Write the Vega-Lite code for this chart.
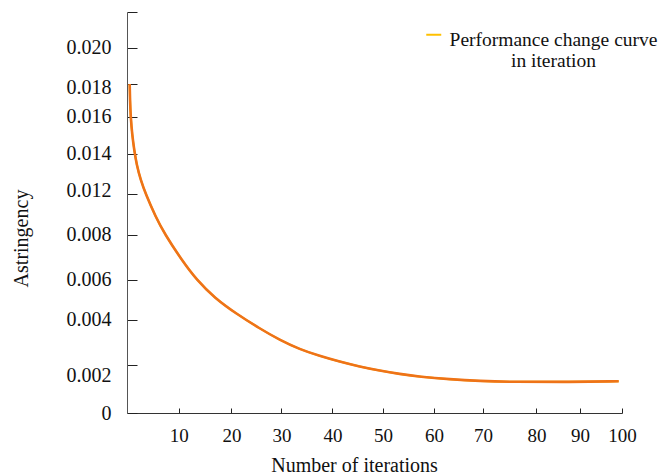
{
  "$schema": "https://vega.github.io/schema/vega-lite/v6.json",
  "width": 495,
  "height": 401,
  "autosize": {"type": "none"},
  "padding": {"left": 127, "top": 12, "right": 39, "bottom": 63},
  "background": "white",
  "config": {
    "view": {"stroke": null},
    "font": "Liberation Serif",
    "axis": {"grid": false, "labelFont": "Liberation Serif", "titleFont": "Liberation Serif", "labelColor": "#111", "titleColor": "#111", "titleFontWeight": "normal"},
    "legend": {"labelFont": "Liberation Serif"}
  },
  "data": {
    "values": [
      {"iteration": 0.545, "value": 0.018027, "series": "curve"},
      {"iteration": 0.606, "value": 0.017151, "series": "curve"},
      {"iteration": 0.747, "value": 0.016219, "series": "curve"},
      {"iteration": 1.051, "value": 0.015233, "series": "curve"},
      {"iteration": 1.455, "value": 0.014411, "series": "curve"},
      {"iteration": 1.96, "value": 0.013589, "series": "curve"},
      {"iteration": 2.768, "value": 0.012767, "series": "curve"},
      {"iteration": 3.778, "value": 0.012, "series": "curve"},
      {"iteration": 5.798, "value": 0.01074, "series": "curve"},
      {"iteration": 7.616, "value": 0.009808, "series": "curve"},
      {"iteration": 11.051, "value": 0.008384, "series": "curve"},
      {"iteration": 14.081, "value": 0.007288, "series": "curve"},
      {"iteration": 17.717, "value": 0.006301, "series": "curve"},
      {"iteration": 22.162, "value": 0.005425, "series": "curve"},
      {"iteration": 26.808, "value": 0.00463, "series": "curve"},
      {"iteration": 30.848, "value": 0.004, "series": "curve"},
      {"iteration": 34.889, "value": 0.00349, "series": "curve"},
      {"iteration": 38.929, "value": 0.003123, "series": "curve"},
      {"iteration": 42.97, "value": 0.002811, "series": "curve"},
      {"iteration": 47.01, "value": 0.002537, "series": "curve"},
      {"iteration": 51.05, "value": 0.002318, "series": "curve"},
      {"iteration": 55.09, "value": 0.002137, "series": "curve"},
      {"iteration": 59.13, "value": 0.001989, "series": "curve"},
      {"iteration": 65.19, "value": 0.001847, "series": "curve"},
      {"iteration": 71.253, "value": 0.001753, "series": "curve"},
      {"iteration": 77.919, "value": 0.001699, "series": "curve"},
      {"iteration": 88.02, "value": 0.001699, "series": "curve"},
      {"iteration": 99.333, "value": 0.001737, "series": "curve"}
    ]
  },
  "encoding": {
    "x": {
      "field": "iteration",
      "type": "quantitative",
      "scale": {"domain": [0, 100], "nice": false, "zero": false},
      "axis": {
        "title": "Number of iterations",
        "values": [10.44, 21.09, 31.19, 41.49, 51.72, 62.02, 71.92, 82.71, 91.52, 100],
        "labelExpr": "format(round(datum.value/10)*10, 'd')",
        "labelFontSize": 19,
        "labelPadding": 18,
        "labelFlush": false,
        "labelOverlap": false,
        "tickSize": -5,
        "tickColor": "#222",
        "domainColor": "#333",
        "titleFontSize": 20,
        "titleX": 227,
        "titleY": 58.7,
        "titleBaseline": "alphabetic",
        "titleAlign": "center"
      }
    },
    "y": {
      "field": "value",
      "type": "quantitative",
      "scale": {"domain": [0, 0.02197], "nice": false, "zero": true},
      "axis": {
        "title": "Astringency",
        "values": [0, 0.00263, 0.005096, 0.007288, 0.009753, 0.012, 0.014192, 0.01622, 0.018027, 0.02, 0.02197],
        "labelExpr": "datum.value < 0.001 ? '0' : datum.value < 0.004 ? '0.002' : datum.value < 0.006 ? '0.004' : datum.value < 0.0085 ? '0.006' : datum.value < 0.011 ? '0.008' : datum.value < 0.013 ? '0.012' : datum.value < 0.015 ? '0.014' : datum.value < 0.017 ? '0.016' : datum.value < 0.019 ? '0.018' : datum.value < 0.021 ? '0.020' : ''",
        "labelFontSize": 20,
        "labelPadding": 26,
        "labelFlush": false,
        "labelOverlap": false,
        "labelOffset": {"condition": [
          {"test": "datum.value > 0.002 && datum.value < 0.003", "value": 11},
          {"test": "datum.value > 0.0175 && datum.value < 0.019", "value": 4},
          {"test": "datum.value > 0.0115 && datum.value < 0.0125", "value": -3}
        ], "value": 0},
        "tickSize": -10,
        "tickColor": "#222",
        "domainColor": "#555",
        "titleFontSize": 20,
        "titleX": -100,
        "titleY": 226,
        "titleAngle": 270,
        "titleBaseline": "alphabetic",
        "titleAlign": "center"
      }
    }
  },
  "layer": [
    {
      "mark": {"type": "line", "interpolate": "basis", "strokeWidth": 2},
      "encoding": {
        "color": {
          "field": "series",
          "type": "nominal",
          "scale": {"range": ["#FFC000"]},
          "legend": {
            "title": null,
            "orient": "none",
            "legendX": 297,
            "legendY": 13,
            "padding": 0,
            "symbolType": "stroke",
            "symbolSize": 225,
            "symbolStrokeWidth": 2,
            "labelExpr": "['Performance change curve', 'in iteration']",
            "labelFontSize": 19.5,
            "labelAlign": "center",
            "labelOffset": 110,
            "labelLimit": 400,
            "labelColor": "#111",
            "encode": {
              "labels": {"update": {"dy": {"value": 5}}}
            }
          }
        }
      }
    },
    {
      "mark": {"type": "line", "interpolate": "basis", "strokeWidth": 2.6, "color": "#EE7318"},
      "encoding": {}
    }
  ]
}
